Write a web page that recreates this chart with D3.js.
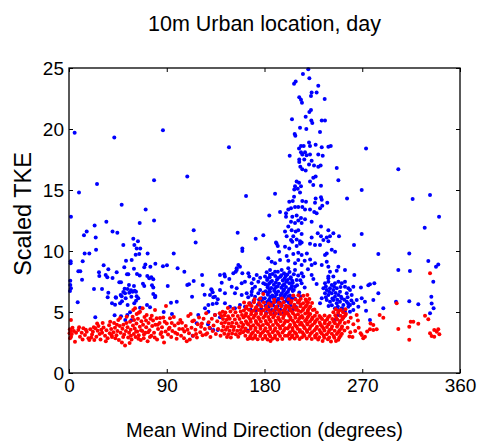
<!DOCTYPE html>
<html><head><meta charset="utf-8">
<script src="https://cdn.jsdelivr.net/npm/d3@7"></script>
<style>
html,body{margin:0;padding:0;background:#fff;}
svg{display:block;font-family:"Liberation Sans",Arial,Helvetica,sans-serif;}
</style></head>
<body><svg id="chart" width="477" height="442"></svg>
<script>
const titleText = "10m Urban location, day";
const xLabelText = "Mean Wind Direction (degrees)";
const yLabelText = "Scaled TKE";
const xTicks = [0, 90, 180, 270, 360];
const yTicks = [0, 5, 10, 15, 20, 25];

// blue series: [direction (deg), scaled TKE]
const blueSeries = [
[5.2,19.7],[1.8,12.8],[9.2,14.8],[25.8,15.5],[41.7,19.3],[86.5,19.9],[78.3,15.8],[48.5,13.8],[70.6,13.4],[34.4,12.4],
[78.3,12.5],[65.1,12.3],[23.6,12.1],[108.9,16.1],[147.3,18.5],[114.8,11.7],[116.6,10.7],[155.3,11.5],[13.8,11.3],[16.3,11.6],
[40.1,11.6],[44.5,11.5],[24.6,11.1],[50,10.5],[59.2,11.0],[63.5,10.8],[60.2,10.5],[24.9,10.1],[62.3,10.2],[65.6,10.2],
[14.4,9.8],[18.7,9.8],[64.7,9.75],[61.4,9.7],[72.4,9.8],[96.4,9.8],[1.5,9.15],[1.5,9.0],[12.6,9.15],[57.7,9.26],
[52.5,9.2],[79.5,8.96],[74.9,8.7],[70.3,8.9],[69.3,8.66],[86.5,8.75],[90.2,8.83],[31.9,8.83],[36.2,8.5],[43.9,8.25],
[50.9,8.66],[59.8,8.55],[100,8.58],[106.2,8.3],[8.6,8.33],[10.4,8.33],[27.6,8.25],[27.9,7.95],[33.8,8.03],[35.3,7.84],
[40.1,7.79],[53.4,8.09],[54.6,8.09],[62.6,8.11],[65.1,8.0],[72.1,7.95],[73.9,7.76],[75.8,7.84],[77.6,7.68],[46.3,7.43],
[47.9,7.43],[12,7.65],[1.2,7.57],[1.2,7.21],[1.8,6.94],[0.9,6.72],[68.1,7.32],[69.3,7.13],[76.4,7.19],[77.6,7.0],
[55.2,7.21],[59.8,7.13],[90.9,7.13],[108.9,7.21],[110.5,7.27],[122.5,8.03],[114.8,7.54],[131,6.86],[132.3,6.61],[23,6.89],
[30.4,6.89],[51.2,6.91],[54,6.89],[57.1,6.78],[60.5,6.75],[50,6.64],[48.5,6.3],[52.2,6.12],[57.4,6.26],[62.3,6.3],
[63.8,6.12],[36.2,6.58],[35.6,6.2],[43,6.2],[79.2,6.2],[77.6,6.48],[113.3,6.26],[124.9,6.42],[132.9,6.2],[43.3,6.17],
[47.6,6.39],[51.6,6.53],[55.5,6.58],[58.6,6.66],[61.7,6.66],[39.6,5.71],[42.4,5.6],[47,5.71],[48.8,5.88],[54,5.57],
[60.1,5.71],[61.7,5.93],[8,5.8],[65.4,5.35],[71.8,5.57],[74.6,5.39],[79.5,6.31],[87.2,5.0],[94.8,4.84],[93.9,5.76],
[99.2,5.84],[42,4.73],[47.9,4.65],[53.7,4.75],[56.2,4.97],[24.2,4.57],[57.4,4.32],[51.8,4.34],[132.3,5.66],[128.3,5.57],
[119,4.75],[117.6,4.07],[113.9,3.06],[128,3.99],[132.9,3.52],[123.1,7.21],[143,8.09],[147.6,7.7],[151.3,8.17],[154.4,8.44],
[220.3,24.9],[215.4,24.5],[221.3,24.15],[207.2,23.7],[208.7,23.9],[229.5,23.55],[223.4,23.0],[228,23.0],[222.8,22.7],[212,22.6],
[213.6,22.4],[214.5,22.15],[235.4,22.46],[222.8,21.56],[221.3,21.4],[217.9,21.0],[205.3,20.8],[223.1,20.7],[224,20.5],[232.7,20.7],
[235.7,20.7],[212.7,20.1],[218.5,20.0],[231.1,19.75],[273.5,18.4],[303.2,16.7],[269.5,15.0],[256,14.3],[316.4,14.26],[332.4,14.6],
[340.7,12.8],[327.5,11.9],[269.5,11.4],[262.4,10.5],[159.6,10.2],
[207.8,19.6],[208.4,19.45],[213.6,18.6],[216.1,18.6],[211.8,18.4],[221,18.9],[221.9,18.6],[227.1,18.7],[232.7,18.5],[238.8,18.55],
[241,18.6],[203.2,17.8],[213.6,18.1],[217.3,18.1],[214.8,17.9],[218.8,17.85],[221.9,17.9],[229.5,17.9],[233.6,17.8],[212,17.5],
[212,17.3],[216.6,17.5],[223.4,17.4],[213,16.9],[214.8,16.7],[221,17.1],[225.6,17.0],[229.5,16.9],[231.7,17.0],[217.9,16.6],
[246.5,16.8],[227.1,16.1],[224.9,16.0],[248,15.8],[209.6,15.7],[211.8,15.6],[208.1,15.3],[210.6,15.1],[213.6,15.3],[207.4,15.05],
[212.7,14.8],[221.9,15.7],[224.9,15.4],[232,15.35],[189.7,14.7],[163,14.5],[207.2,14.45],[206,14.1],[202.8,14.04],[214.8,14.1],
[218.2,14.04],[227.1,14.3],[232,14.4],[232.7,14.2],[226.5,13.96],[237.8,13.96],[233.2,13.7],[231.1,13.5],[194.3,13.2],[199.8,13.1],
[201.9,13.4],[204.4,13.5],[208.1,13.6],[211.1,13.6],[214.8,13.6],[217.3,13.4],[221.9,13.4],[225.8,13.2],[184.4,12.9],[199.8,12.8],
[205.6,12.8],[209.6,12.9],[213.6,12.7],[217.3,12.6],[204.4,12.4],[208.1,12.3],[211.1,12.5],[214.2,12.3],[223.4,12.4],[228,13.1],
[232,12.0],[171.9,11.0],[178.9,11.3],[190.6,10.7],[198.9,11.6],[201.9,12.0],[200.4,11.2],[205,11.7],[206.5,11.2],[208.7,11.6],
[211.1,11.7],[214.2,11.4],[209.6,10.95],[212.7,10.8],[204.4,10.9],[223.4,11.1],[229,11.45],[232,11.2],[238.8,11.7],[240.3,11.2],
[243.4,11.45],[248.6,11.2],[237.3,11.1],[234.2,10.9],[192.2,10.4],[202.8,10.2],
[159.6,10.0],[191.2,10.6],[198.9,10.35],[205.6,10.76],[209.6,10.4],[214.2,10.7],[193.4,9.94],[200.4,9.6],[206.5,9.75],[211.1,9.86],
[214.2,9.67],[155.9,8.85],[154.4,8.58],[153.5,8.3],[157.4,8.71],[159.6,8.17],[165.1,8.17],[172.8,8.03],[139,8.03],[143.6,7.9],
[140.6,7.4],[131.4,6.8],[139,6.8],[129.8,6.39],[134.4,6.25],[137,6.04],[136,5.71],[143.6,6.53],[183.5,9.4],[186.6,9.12],
[189.7,8.99],[194.3,9.26],[201.9,9.2],[208.1,8.99],[185.1,8.44],[189.7,8.3],[195.8,8.44],[201.9,8.58],[208.1,8.44],[214.2,8.85],
[149.8,7.07],[154.4,6.94],[159,7.35],[162,7.48],[168.2,7.35],[171.3,7.07],[174.3,7.48],[178.9,7.35],[152.8,6.53],[159,6.39],
[163.6,6.53],[168.2,6.66],[171.3,6.25],[174.3,6.53],[177.4,6.12],[143.6,5.71],[148.2,5.43],[152.8,5.3],[157.4,5.57],[162,5.43],
[166.6,5.71],[125.2,5.3],[128.3,5.02],[134.4,4.75],[139,4.57],[129.8,3.66],[137,3.52],[164.5,3.47],
[212.7,10.6],[221.9,10.6],[226.5,10.5],[231.1,10.5],[238.8,10.8],[241.9,10.1],[245,9.94],[235.7,9.67],[237.3,9.8],[211.1,9.26],
[223.4,8.85],[226.5,8.99],[232.7,8.85],[238.8,8.71],[237.3,9.12],[248,8.71],[246.5,8.39],[254.1,8.44],[214.2,8.17],[215.7,7.9],
[223.4,8.03],[240.3,8.3],[238.8,7.9],[262.7,8.03],[209.6,7.62],[214.2,7.35],[208.1,7.07],
[284.8,9.75],[313.3,9.8],[303.2,8.44],[313.9,8.36],[330.8,9.18],[340,8.9],[337.9,8.7],[335.4,7.48],[281.1,7.35],[277.1,7.27],
[284.8,6.53],[268.8,7.0],[272.5,5.85],[273.5,5.1],[289.4,5.3],[301.1,5.85],[313.3,5.88],[321.6,5.63],[333.6,6.25],[333.9,5.7],
[332.4,4.9],[277.1,4.34],[335.7,5.3],[275.6,7.2],[280.2,5.98],[269.5,6.12],[264.9,5.98],[266.4,5.43],
[182.0,8.25],[187.5,8.12],[192.3,8.3],[198.0,8.18],[203.1,8.28],
[180.5,7.92],[184.8,7.85],[189.9,7.96],[194.6,7.88],[199.5,7.93],[204.2,7.84],
[182.4,7.62],[186.9,7.55],[191.5,7.66],[196.8,7.58],[201.2,7.63],[205.5,7.57],
[180.8,7.28],[184.3,7.33],[188.6,7.24],[193.4,7.31],[198.1,7.27],[202.9,7.35],
[182.9,7.02],[186.2,6.96],[190.7,7.04],[195.5,6.98],[199.8,7.05],[204.6,6.97],
[181.2,6.71],[185.0,6.66],[188.9,6.74],[192.6,6.68],[197.3,6.73],[201.6,6.65],[206.0,6.72],
[183.1,6.41],[187.2,6.36],[191.0,6.44],[194.8,6.38],[199.0,6.42],[203.4,6.35],
[180.3,6.12],[184.6,6.07],[188.4,6.14],[192.9,6.08],[196.5,6.13],[200.7,6.06],[205.1,6.11],
[182.2,5.82],[186.4,5.77],[190.2,5.84],[194.1,5.78],[198.3,5.83],[202.5,5.76],
[180.9,5.52],[184.1,5.47],[188.0,5.54],[191.8,5.48],[195.9,5.53],[200.0,5.46],[204.0,5.51],
[182.7,5.22],[186.8,5.17],[190.5,5.24],[194.5,5.18],[198.7,5.23],[202.8,5.16],
[181.5,4.92],[185.6,4.87],[189.4,4.94],[193.5,4.88],[197.6,4.93],
[185.0,8.05],[195.5,8.02],[201.0,8.08],[182.8,7.75],[192.5,7.78],[198.3,7.72],[203.8,7.76],
[185.6,7.45],[190.4,7.42],[200.0,7.47],[183.0,7.15],[192.0,7.12],[196.9,7.17],[205.2,7.14],
[184.6,6.85],[189.3,6.88],[198.0,6.84],[202.6,6.87],[183.2,6.55],[190.3,6.57],[195.9,6.52],[200.3,6.56],
[185.6,6.25],[189.6,6.22],[198.0,6.27],[201.9,6.24],[184.0,5.95],[192.0,5.97],[200.6,5.93],[204.2,5.96],
[166,7.9],[170,7.7],[176,7.8],[169,6.9],[176,6.8],[165,6.2],[170,5.9],[174,5.6],[178,5.9],[167,5.2],
[172,5.1],[177,5.3],[179,6.6],[175,6.0],[168,6.4],
[207,8.1],[211,8.0],[213,7.6],[206,7.4],[210,7.2],[207,6.8],[212,6.6],[208,6.1],[211,5.8],[209,5.4],
[206,5.2],[213,6.3],[217,7.0],[220,8.5],[217,9.2],[219,9.8],[222,9.3],[225,7.7],[228,7.3],
[235.7,7.35],[238.8,7.48],[241.9,7.21],[244.9,7.35],[248,7.48],[251.1,7.35],[234.2,6.94],[237.3,6.8],[240.3,6.94],[243.4,6.8],
[246.5,6.94],[249.5,6.66],[235.7,6.53],[238.8,6.39],[241.9,6.53],[244.9,6.25],[248,6.39],[251.1,6.12],[255.7,6.53],[258.7,6.8],
[260.3,6.39],[237.3,5.98],[240.3,5.84],[243.4,5.98],[246.5,5.71],[249.5,5.84],[252.6,5.57],[255.7,5.84],[258.7,5.57],[261.8,5.71],
[244.9,5.3],[248,5.16],[251.1,5.3],[254.1,5.02],[257.2,5.43],[258.7,5.02],[261.8,5.16],[248,4.75],[244.9,4.34],[252.6,4.57],
[232.7,6.12],[231.1,5.71],[238.8,7.76],[243.4,7.9],[254.1,7.07],[257.2,6.94],[254.1,7.48],[261.8,7.07],
[236.5,6.2],[239.5,6.65],[242.5,6.1],[245.5,6.55],[247,6.0],[250.5,6.25],[253.5,6.0],[256.5,6.2],[242,5.55],[247.5,5.45],
[252,5.25],[257,5.7],[260,5.95],[239,5.5],[244,7.1],[250,7.05],[236.5,7.1]
];

// red series: [direction (deg), scaled TKE]
const redSeries = [
[1.8,4.34],[0.8,3.58],[1.6,3.47],[0.5,3.25],[1.9,2.98],[2.6,3.2],[1.0,2.84],[3.2,3.7],[5.5,2.57],[8.6,3.52],
[11.7,3.3],[10.1,2.98],[13.2,3.66],[14.7,3.11],[16.3,3.39],[17.9,2.84],[6.5,3.3],[12.5,2.75],[18.7,2.7],[4.5,3.45],
[9.3,3.75],[15.5,3.55],
[19.6,3.58],[22,3.39],[24.2,3.66],[26.4,3.47],[28.2,3.2],[25.2,2.98],[23.3,2.7],[21.2,3.15],[27.1,3.85],[29.7,3.55],
[30.5,3.3],[31.8,3.72],[33.2,3.05],[34.5,3.5],[35.6,2.84],[36.9,3.92],[37.5,3.25],[38.8,3.6],[39.6,2.95],[40.9,3.35],
[41.5,4.1],[42.3,3.7],[43.7,3.1],[44.6,3.45],[45.4,4.34],[45.9,2.7],[46.8,3.85],[47.5,3.3],[48.7,2.5],[49.2,3.62],
[50.1,3.95],[50.8,3.15],[51.6,2.25],[52.4,3.45],[53.1,4.62],[53.9,3.75],[54.5,2.9],[55.3,3.3],[56.2,4.2],[56.8,3.55],
[57.6,2.75],[58.6,4.62],[58.9,3.9],[59.2,5.16],[59.7,3.2],[60.8,5.3],[60.5,3.65],[61.3,2.95],[62.1,4.05],[62.8,3.4],
[63.5,4.45],[64.2,3.1],[65.4,5.02],[65.2,3.8],[66.1,2.7],[66.7,4.25],[67.5,3.45],[68.2,3.95],[68.8,2.85],[69.5,4.6],
[70.3,3.3],[71.5,4.75],[71.1,3.75],[72.4,2.6],[73.2,4.1],[74.1,3.5],[75.0,4.45],[75.8,3.05],[76.6,3.85],[77.4,4.3],
[78.3,3.3],[79.2,5.16],[79.5,3.95],[80.7,4.48],[81.1,2.75],[82.0,3.6],[83.4,4.1],[84.3,3.2],[85.6,3.75],[86.8,4.55],
[87.5,2.5],[88.9,3.4],[89.3,5.5],[90,4.05],[91.2,3.15],[92.6,3.7],[93,4.48],[94.1,2.95],[95.2,3.45],[86.0,2.95],
[67.8,5.3],[64.2,4.94],[62.3,4.84],
[20.5,2.9],[22.8,3.75],[25.9,4.05],[29.0,2.75],[31.0,4.1],[33.9,2.6],[37.9,4.2],[39.2,3.1],[42.7,2.85],[44.1,3.95],
[47.1,4.5],[49.9,2.95],[52.9,4.1],[55.8,2.45],[57.0,3.05],[59.9,4.35],[61.8,3.4],[63.9,2.8],[66.3,3.5],[69.0,3.15],
[70.9,4.3],[72.9,3.35],[74.5,2.95],[76.2,4.7],[78.9,2.9],[81.7,3.95],[83.8,4.5],[85.1,3.35],[88.1,4.2],[91.8,3.6],
[94.6,4.1],[97.3,3.9],[99.8,3.2],[104.7,3.6],[109.1,3.55],[113.6,4.25],[117.0,3.2],[122.3,4.05],[126.0,3.15],
[96.5,4.6],[97.8,3.3],[99.1,2.8],[100.6,4.07],[101.5,3.6],[103.2,3.05],[104,4.12],[105.9,2.84],[106.2,3.4],[107.5,3.85],
[108.4,2.6],[109.8,4.67],[110.5,3.25],[112,4.84],[112.8,3.7],[114.2,3.05],[115.1,4.3],[116.4,3.55],[117.8,2.9],[118.5,4.0],
[119.7,4.55],[120.8,3.35],[121.6,3.8],[123.0,3.1],[123.9,4.45],[125.1,3.6],[126.3,4.9],[127.2,3.25],[128.6,4.15],[129.4,3.7],
[130.2,2.95],[131.5,4.45],[132.3,3.45],[133.1,3.9],[134.4,4.75],[135.2,3.2],[136.5,4.25],[137.3,3.6],[138.8,4.9],[139.5,3.05],
[102.5,4.35],[111.2,2.75],
[146.3,5.32],[151.2,5.27],[156.8,5.36],
[141.5,5.02],[144.0,4.96],[148.6,5.05],[153.3,4.98],[158.1,5.04],
[140.2,4.68],[143.1,4.74],[146.5,4.66],[150.9,4.72],[155.4,4.67],[159.3,4.75],
[141.8,4.42],[145.2,4.36],[148.0,4.44],[152.7,4.38],[157.0,4.43],
[140.5,4.08],[143.6,4.14],[147.1,4.06],[150.3,4.12],[154.2,4.07],[158.6,4.13],
[142.2,3.82],[145.9,3.76],[149.4,3.84],[152.0,3.78],[156.3,3.83],[159.6,3.77],
[140.9,3.48],[144.4,3.54],[147.8,3.46],[151.5,3.52],[154.9,3.47],[158.2,3.53],
[143.0,3.22],[146.7,3.17],[150.2,3.24],[153.6,3.18],[157.4,3.23],
[145.5,2.95],[149.0,2.92],[155.8,2.97],
[161.2,5.78],[165.8,5.72],[170.3,5.8],[174.9,5.73],[179.4,5.77],[184.0,5.7],[188.7,5.79],[193.1,5.74],[197.6,5.8],
[163.4,5.45],[168.1,5.5],[172.6,5.42],[177.2,5.48],[181.7,5.44],[186.3,5.51],[190.9,5.43],[195.4,5.47],[199.8,5.52],
[161.0,5.13],[165.6,5.18],[170.0,5.12],[174.5,5.17],[179.2,5.14],[183.8,5.19],[188.2,5.11],[192.7,5.16],[197.3,5.13],
[163.1,4.87],[167.7,4.82],[172.3,4.88],[176.8,4.83],[181.4,4.86],[186.0,4.81],[190.5,4.89],[195.0,4.84],[199.6,4.87],
[160.7,4.55],[165.3,4.58],[169.9,4.52],[174.3,4.57],[178.9,4.53],[183.5,4.59],[188.0,4.54],[192.6,4.56],[197.1,4.51],
[162.9,4.25],[167.4,4.21],[172.0,4.27],[176.6,4.22],[181.1,4.26],[185.7,4.23],[190.2,4.28],[194.8,4.24],[199.3,4.26],
[160.5,3.95],[165.0,3.98],[169.6,3.92],[174.1,3.97],[178.6,3.93],[183.2,3.99],[187.8,3.94],[192.3,3.96],[196.9,3.91],
[162.6,3.65],[167.2,3.62],[171.8,3.68],[176.3,3.63],[180.9,3.66],[185.4,3.61],[190.0,3.67],[194.5,3.64],[199.1,3.66],
[160.3,3.35],[164.8,3.38],[169.3,3.32],[173.9,3.37],[178.4,3.34],[183.0,3.39],[187.5,3.33],[192.1,3.36],[196.6,3.31],
[162.4,3.05],[166.9,3.02],[171.5,3.07],[176.0,3.03],[180.6,3.06],[185.2,3.01],[189.7,3.08],[194.3,3.04],[198.8,3.06],
[164.5,2.78],[169.1,2.8],[173.7,2.76],[178.2,2.79],[182.8,2.75],[187.3,2.8],[191.9,2.74],[196.4,2.78],
[170.8,6.05],[178.9,6.48],[176,6.1],[189,6.0],[196,6.1],[199.5,4.95],[166.5,2.85],[185.5,2.62],
[166.5,5.6],[175.8,5.62],[186.0,5.58],[195.2,5.61],[163.0,5.3],[171.9,5.32],[181.5,5.28],[190.3,5.31],[199.0,5.29],
[168.0,5.0],[176.9,5.02],[185.2,4.98],[194.1,5.01],[162.5,4.7],[171.0,4.72],[180.3,4.68],[189.0,4.71],[197.8,4.69],
[166.8,4.4],[175.3,4.42],[184.6,4.38],[193.4,4.41],[163.8,4.1],[172.4,4.12],[181.8,4.08],[190.6,4.11],[198.4,4.09],
[167.3,3.8],[176.1,3.82],[185.0,3.78],[194.0,3.81],[162.2,3.5],[171.4,3.52],[180.0,3.48],[189.2,3.51],[197.9,3.49],
[167.9,3.2],[176.7,3.22],[184.3,3.18],[193.1,3.21],[171.2,2.9],[180.8,2.92],[189.6,2.88],
[206.5,6.35],[211.2,6.38],[215.8,6.33],[219.5,6.4],
[202.1,6.05],[208.7,6.02],[213.4,6.08],[217.9,6.03],[221.3,6.06],
[204.3,5.75],[210.9,5.78],[215.6,5.72],[220.1,5.77],[223.8,5.73],
[201.9,5.45],[206.5,5.42],[213.1,5.48],[217.7,5.43],[222.2,5.46],
[204.1,5.15],[208.6,5.18],[211.0,5.12],[215.4,5.17],[219.9,5.13],[224.5,5.16],
[201.7,4.85],[206.3,4.88],[210.8,4.82],[217.5,4.87],[222.1,4.84],
[203.9,4.55],[208.4,4.52],[212.9,4.58],[215.2,4.53],[219.7,4.57],[224.3,4.54],
[201.5,4.25],[206.0,4.28],[210.6,4.22],[217.3,4.26],[221.9,4.23],
[203.6,3.95],[208.2,3.92],[212.7,3.98],[215.0,3.93],[219.5,3.97],[224.0,3.94],
[201.3,3.65],[205.8,3.68],[210.4,3.62],[217.0,3.67],[221.6,3.63],
[203.4,3.35],[208.0,3.32],[212.5,3.38],[214.8,3.33],[219.3,3.37],[223.8,3.34],
[201.1,3.05],[205.6,3.08],[210.1,3.02],[216.8,3.06],[221.4,3.03],
[203.2,2.8],[207.8,2.83],[212.3,2.78],[218.9,2.82],[223.5,2.79],
[198.9,4.89],[200.4,4.97],
[205.0,5.9],[212.0,5.92],[218.6,5.88],[207.5,5.6],[213.3,5.62],[219.0,5.58],[203.0,5.3],[209.7,5.32],[216.0,5.28],[221.0,5.31],
[205.5,5.0],[213.5,5.02],[219.8,4.98],[202.6,4.7],[208.2,4.72],[214.5,4.68],[220.8,4.71],[204.0,4.4],[211.8,4.42],[218.6,4.38],
[223.6,4.41],[207.4,4.1],[213.8,4.12],[219.4,4.08],[202.7,3.8],[209.6,3.82],[216.4,3.78],[222.4,3.81],[205.9,3.5],[212.6,3.52],
[219.0,3.48],[202.6,3.2],[209.1,3.22],[216.0,3.18],[222.5,3.21],[205.2,2.95],[214.5,2.93],
[226.0,5.2],[245.5,5.23],[250.2,5.17],[254.5,5.22],
[228.2,4.95],[243.4,4.98],[247.8,4.93],[252.3,4.97],
[226.4,4.7],[230.6,4.67],[235.3,4.72],[240.0,4.68],[245.2,4.73],[249.9,4.69],[254.3,4.71],
[228.5,4.4],[233.0,4.43],[237.7,4.38],[242.4,4.42],[247.0,4.39],[251.6,4.41],
[226.2,4.1],[230.8,4.13],[235.4,4.08],[240.1,4.12],[244.8,4.07],[249.3,4.11],[253.9,4.09],
[228.3,3.8],[232.9,3.83],[237.5,3.78],[242.2,3.82],[246.8,3.79],[251.4,3.81],
[226.0,3.5],[230.6,3.53],[235.2,3.48],[239.8,3.52],[244.6,3.47],[249.1,3.51],[253.6,3.49],
[228.1,3.2],[232.7,3.23],[237.3,3.18],[242.0,3.22],[246.6,3.19],[251.2,3.21],
[226.8,2.9],[230.4,2.93],[235.0,2.88],[239.6,2.92],[244.3,2.89],[248.9,2.91],
[233.5,2.62],[241.2,2.58],[245.8,2.63],
[231.8,4.55],[238.6,4.57],[246.0,4.53],[252.6,4.56],[226.9,4.25],[235.7,4.27],[243.8,4.23],[249.8,4.26],
[231.6,3.95],[238.8,3.97],[247.6,3.93],[227.4,3.65],[234.3,3.67],[241.6,3.63],[250.8,3.66],
[231.8,3.35],[239.0,3.37],[247.9,3.33],[226.5,3.05],[234.5,3.07],[243.7,3.03],[250.1,3.06],
[229.4,2.75],[238.3,2.77],[248.0,2.73],
[248,5.08],[255,4.84],[264.9,4.75],[259.4,4.53],[257.2,4.2],[256.5,3.7],[259.0,3.35],[261.8,4.0],[263.5,3.45],[266.0,4.3],
[258.2,3.0],[261.0,2.95],[266.7,3.7],[268.5,3.25],[269.5,3.11],[272.5,2.98],[270.9,2.84],[280.2,3.93],[277.1,3.58],[280.2,3.52],
[283.3,3.58],[274.5,3.4],[289.4,4.53],[286.0,4.75],[277.6,4.05],
[332.4,8.17],[301.7,5.71],[314.6,4.2],[317,4.2],[313.3,3.8],[321.6,4.04],[327.8,4.7],[330.8,4.4],[303.2,3.6],[313.3,2.73],
[332.4,3.25],[333.9,3.03],[336.3,3.52],[338.6,3.39],[340,3.58],[341,3.17],[336.3,2.98]
];

const svg = d3.select("#chart");
const pLeft = 69, pRight = 460, pTop = 68, pBottom = 373;
const x = d3.scaleLinear().domain([0, 360]).range([pLeft, pRight]);
const y = d3.scaleLinear().domain([0, 25]).range([pBottom, pTop]);
const fontFam = "\"Liberation Sans\",Arial,Helvetica,sans-serif";

const R = 2;
svg.append("g").selectAll("circle").data(blueSeries).join("circle")
  .attr("cx", d => x(d[0])).attr("cy", d => y(d[1])).attr("r", R).attr("fill", "#0000ff");
svg.append("g").selectAll("circle").data(redSeries).join("circle")
  .attr("cx", d => x(d[0])).attr("cy", d => y(d[1])).attr("r", R).attr("fill", "#ff0000");

function styleAxis(g, fs) {
  g.select(".domain").remove();
  g.selectAll(".tick line").attr("stroke", "#000").attr("stroke-width", 1);
  g.selectAll("text").attr("fill", "#000").attr("font-size", fs).attr("font-family", fontFam);
}
const fsTick = 19;
svg.append("g").attr("transform", `translate(0,${pBottom})`)
  .call(d3.axisBottom(x).tickValues(xTicks).tickFormat(d3.format("d")).tickSizeInner(-4).tickSizeOuter(0).tickPadding(6))
  .call(g => styleAxis(g, fsTick));
svg.append("g").attr("transform", `translate(${pLeft},0)`)
  .call(d3.axisLeft(y).tickValues(yTicks).tickFormat(d3.format("d")).tickSizeInner(-4).tickSizeOuter(0).tickPadding(5))
  .call(g => styleAxis(g, fsTick));
svg.append("g").attr("transform", `translate(0,${pTop})`)
  .call(d3.axisTop(x).tickValues(xTicks).tickFormat("").tickSizeInner(-4).tickSizeOuter(0))
  .call(g => styleAxis(g, fsTick));
svg.append("g").attr("transform", `translate(${pRight},0)`)
  .call(d3.axisRight(y).tickValues(yTicks).tickFormat("").tickSizeInner(-4).tickSizeOuter(0))
  .call(g => styleAxis(g, fsTick));

svg.append("rect").attr("x", pLeft).attr("y", pTop).attr("width", pRight - pLeft).attr("height", pBottom - pTop)
  .attr("fill", "none").attr("stroke", "#000").attr("stroke-width", 1.3);

svg.append("text").attr("x", (pLeft + pRight) / 2).attr("y", 31).attr("text-anchor", "middle")
  .attr("font-size", 21.5).attr("font-family", fontFam).attr("fill", "#000").text(titleText);
svg.append("text").attr("x", (pLeft + pRight) / 2).attr("y", 437).attr("text-anchor", "middle")
  .attr("font-size", 20).attr("font-family", fontFam).attr("fill", "#000").text(xLabelText);
svg.append("text").attr("transform", `translate(31,214) rotate(-90)`).attr("text-anchor", "middle")
  .attr("font-size", 23.5).attr("font-family", fontFam).attr("fill", "#000").text(yLabelText);
</script></body></html>
